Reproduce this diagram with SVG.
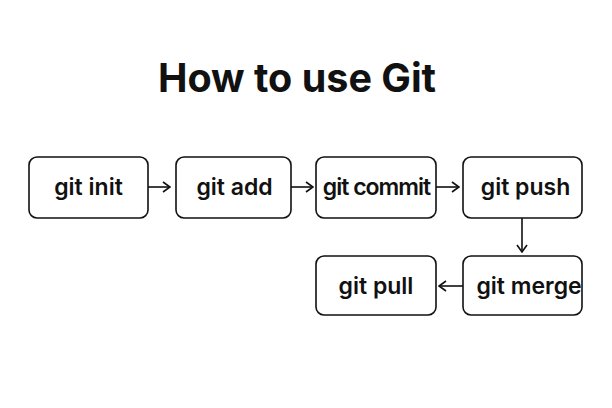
<svg xmlns="http://www.w3.org/2000/svg" width="612" height="408" viewBox="0 0 612 408">
<style>
.box{fill:#fff;stroke:#111;stroke-width:1.6}
.lbl{font-family:Inter,"Liberation Sans",sans-serif;font-weight:600;font-size:23px;fill:#111;text-anchor:middle}
.title{font-family:Inter,"Liberation Sans",sans-serif;font-weight:700;font-size:39.5px;fill:#111;text-anchor:middle}
.conn{fill:none;stroke:#111;stroke-width:1.6}
</style>
<defs>
<marker id="ah" viewBox="0 0 12 12" refX="11" refY="6" markerWidth="12" markerHeight="12" markerUnits="userSpaceOnUse" orient="auto">
<polyline points="4,1 11,6 4,11" fill="none" stroke="#111" stroke-width="1.6"/>
</marker>
</defs>
<rect width="612" height="408" fill="#fff"/>
<text class="title" x="297" y="92">How to use Git</text>
<g id="connectors">
<line class="conn" x1="148" y1="187" x2="170" y2="187" marker-end="url(#ah)"/>
<line class="conn" x1="291" y1="187" x2="313" y2="187" marker-end="url(#ah)"/>
<line class="conn" x1="436" y1="187" x2="459" y2="187" marker-end="url(#ah)"/>
<line class="conn" x1="522" y1="218" x2="522" y2="252" marker-end="url(#ah)"/>
<line class="conn" x1="463" y1="286" x2="439" y2="286" marker-end="url(#ah)"/>
</g>
<g id="n1"><rect class="box" x="29" y="157" width="119" height="61" rx="8"/><text class="lbl" x="88.5" y="195">git init</text></g>
<g id="n2"><rect class="box" x="176" y="157" width="115" height="61" rx="8"/><text class="lbl" x="234.5" y="195">git add</text></g>
<g id="n3"><rect class="box" x="316" y="157" width="120" height="61" rx="8"/><text class="lbl" x="376.5" y="195" style="letter-spacing:-1px">git commit</text></g>
<g id="n4"><rect class="box" x="463" y="157" width="119" height="61" rx="8"/><text class="lbl" x="525.5" y="195">git push</text></g>
<g id="n5"><rect class="box" x="463" y="256" width="119" height="59" rx="8"/><text class="lbl" x="529" y="294">git merge</text></g>
<g id="n6"><rect class="box" x="316" y="256" width="120" height="59" rx="8"/><text class="lbl" x="376" y="294">git pull</text></g>
</svg>
